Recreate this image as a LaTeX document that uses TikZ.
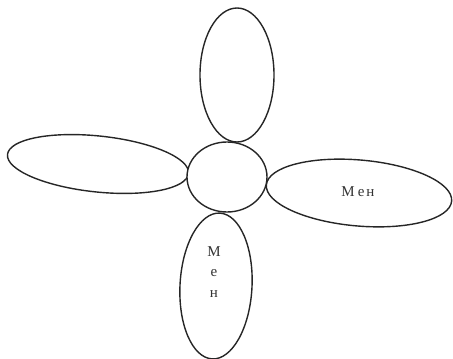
\documentclass[tikz,border=0pt]{standalone}
\usepackage{fontspec}
\setmainfont{Liberation Serif}
\begin{document}
\begin{tikzpicture}[x=1pt,y=-1pt,
  petal/.style={draw=black!85, line width=1.4pt},
  lbl/.style={font=\fontsize{15}{15}\selectfont, text=black!80}]
\useasboundingbox (0,0) rectangle (453,359);
\draw[petal] (237,75) ellipse [x radius=37, y radius=67];
\draw[petal, rotate around={-6:(98,164)}] (98,164) ellipse [x radius=91, y radius=28];
\draw[petal, rotate around={-5:(359,193)}] (359,193) ellipse [x radius=93, y radius=33];
\draw[petal, rotate around={-3:(216,286)}] (216,286) ellipse [x radius=36, y radius=73];
\draw[petal, fill=white] (227,177) ellipse [x radius=40, y radius=35];
\node[lbl] (r) at (358,192) {М\hspace{3pt}е\hspace{2pt}н};
\node[lbl] (m) at (214,252) {М};
\node[lbl] (e) at (214,273) {е};
\node[lbl] (n) at (214,294) {н};
\end{tikzpicture}
\end{document}
